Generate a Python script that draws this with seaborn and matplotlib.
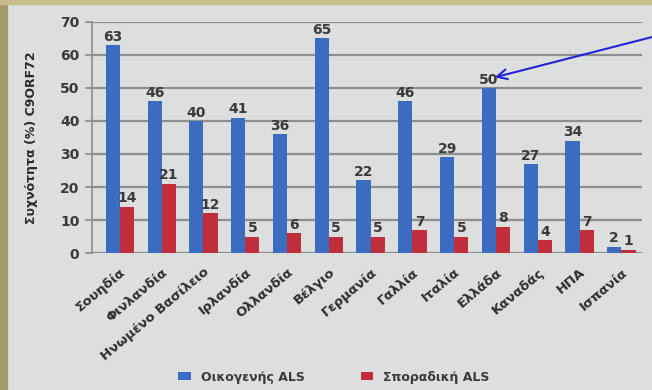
import matplotlib
matplotlib.use("Agg")
import matplotlib.pyplot as plt
import seaborn as sns
import pandas as pd
from matplotlib.patches import Rectangle

countries = ["Σουηδία", "Φινλανδία", "Ηνωμένο Βασίλειο", "Ιρλανδία", "Ολλανδία",
             "Βέλγιο", "Γερμανία", "Γαλλία", "Ιταλία", "Ελλάδα", "Καναδάς", "ΗΠΑ", "Ισπανία"]
familial = [63, 46, 40, 41, 36, 65, 22, 46, 29, 50, 27, 34, 2]
sporadic = [14, 21, 12, 5, 6, 5, 5, 7, 5, 8, 4, 7, 1]
series_names = ["Οικογενής ALS", "Σποραδική ALS"]
y_ticks = [0, 10, 20, 30, 40, 50, 60, 70]

df = pd.DataFrame({
    "country": countries * 2,
    "value": familial + sporadic,
    "series": [series_names[0]] * len(countries) + [series_names[1]] * len(countries),
})

sns.set_theme(style="white")
plt.rcParams["font.family"] = ["DejaVu Sans"]

bg = "#dddfde"
fig = plt.figure(figsize=(6.52, 3.9), dpi=100, facecolor=bg)
ax = fig.add_axes([0.141, 0.351, 0.844, 0.593])
ax.set_facecolor(bg)

palette = {series_names[0]: "#3b6cbf", series_names[1]: "#c02e3c"}
sns.barplot(data=df, x="country", y="value", hue="series", palette=palette,
            width=0.68, saturation=1, ax=ax, zorder=3, legend=True, linewidth=0)

ax.set_ylim(0, 70)
ax.set_yticks(y_ticks)
ax.set_xlim(-0.67, len(countries) - 0.5)
ax.yaxis.grid(True, color="#8e8e8e", linewidth=1.6, zorder=0)
for s in ["top", "right", "bottom"]:
    ax.spines[s].set_visible(False)
ax.spines["left"].set_color("#8e8e8e")
ax.spines["left"].set_linewidth(1.2)
ax.tick_params(axis="y", left=True, length=5, color="#8e8e8e", labelsize=10,
               labelcolor="#3a3a3a", pad=4)
ax.tick_params(axis="x", bottom=False, labelsize=9.5, labelcolor="#2e2e2e", pad=3)
for lab in ax.get_xticklabels():
    lab.set_rotation(40)
    lab.set_ha("right")
    lab.set_rotation_mode("anchor")
    lab.set_fontweight("bold")
for lab in ax.get_yticklabels():
    lab.set_fontweight("bold")

ax.set_xlabel("")
ax.set_ylabel("Συχνότητα (%) C9ORF72", fontsize=9, fontweight="bold",
              color="#2a2a2a", labelpad=16)

for cont in ax.containers:
    ax.bar_label(cont, fmt="%d", padding=1, fontsize=10, color="#3a3a3a",
                 fontweight="bold")

leg = ax.legend(loc="upper center", bbox_to_anchor=(0.44, -0.46), ncol=2,
                frameon=False, fontsize=9, handlelength=1.0, handleheight=0.6,
                columnspacing=4.5, labelcolor="#3a3a3a")
for t in leg.get_texts():
    t.set_fontweight("bold")

# arrow pointing at Greece's familial value label
gi = countries.index("Ελλάδα")
ax.annotate("", xy=(gi - 0.03, familial[gi] + 3.2), xycoords="data",
            xytext=(1.0, 0.905), textcoords="figure fraction",
            arrowprops=dict(arrowstyle="->", color="#2323d8", lw=1.5,
                            mutation_scale=18, shrinkA=0, shrinkB=0),
            annotation_clip=False)

# frame strips
fig.patches.append(Rectangle((0, 0), 7 / 652, 1, transform=fig.transFigure,
                             color="#a39a6d", zorder=-1))
fig.patches.append(Rectangle((0, 1 - 4 / 390), 1, 4 / 390, transform=fig.transFigure,
                             color="#c8bd8c", zorder=-1))

fig.savefig("out.png", dpi=100, facecolor=bg)
